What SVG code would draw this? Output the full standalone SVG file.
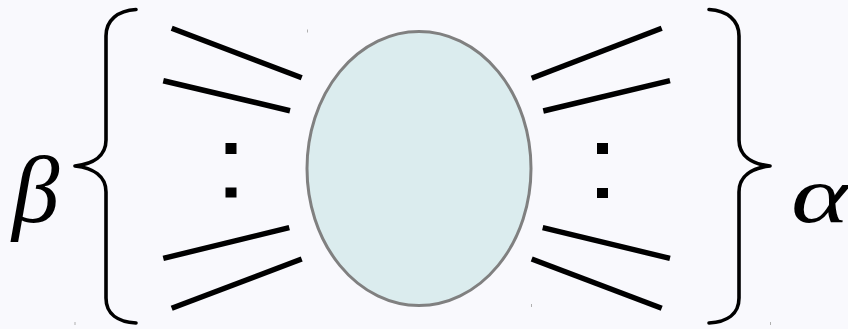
<svg xmlns="http://www.w3.org/2000/svg" width="848" height="329" viewBox="0 0 848 329">
<defs>
<style>
.leg{stroke:#000;stroke-width:5.5;stroke-linecap:butt;fill:none}
.dot{fill:#000}
.brace{stroke:#000;stroke-width:3.6;fill:none;stroke-linecap:round;stroke-linejoin:round}
.lbl{font-family:"Liberation Serif","DejaVu Serif",serif;font-style:italic;fill:#000}
.tick{fill:#b0b0b0}
</style>
</defs>
<rect x="0" y="0" width="848" height="329" fill="#f9f9fd"/>
<g id="connectors">
<line class="leg" x1="171.7" y1="28.3" x2="301.7" y2="77.7"/>
<line class="leg" x1="163.3" y1="80.7" x2="290" y2="110.7"/>
<line class="leg" x1="163.3" y1="258.3" x2="289.3" y2="227.7"/>
<line class="leg" x1="171.7" y1="308.3" x2="301.7" y2="259"/>
<line class="leg" x1="531.7" y1="78.3" x2="661.7" y2="28.3"/>
<line class="leg" x1="543.3" y1="111" x2="670" y2="80.7"/>
<line class="leg" x1="542.7" y1="227.7" x2="670" y2="258.3"/>
<line class="leg" x1="531.7" y1="259" x2="661.7" y2="308.3"/>
<rect class="dot" x="225.5" y="143" width="11" height="11"/>
<rect class="dot" x="225.5" y="187.5" width="11" height="10"/>
<rect class="dot" x="597" y="143" width="11" height="11"/>
<rect class="dot" x="597" y="188" width="11" height="10"/>
</g>
<g id="vertex">
<ellipse cx="419" cy="168.5" rx="112" ry="137" fill="#dbecee" stroke="#808080" stroke-width="3"/>
</g>
<g id="brace-left">
<path class="brace" d="M136,9.5 C118,10.5 106,20 106,36 L106,140 C106,156 93,164 75,166 C93,168 106,176 106,192 L106,298 C106,314 118,322 136,323"/>
<text class="lbl" x="12" y="222" font-size="95">β</text>
</g>
<g id="brace-right">
<path class="brace" transform="translate(845,0) scale(-1,1)" d="M136,9.5 C118,10.5 106,20 106,36 L106,140 C106,156 93,164 75,166 C93,168 106,176 106,192 L106,298 C106,314 118,322 136,323"/>
<text class="lbl" x="0" y="0" font-size="80" transform="translate(791,222) scale(1.38,1)">α</text>
</g>
<rect class="tick" x="307" y="29.5" width="1" height="3"/>
<rect class="tick" x="531" y="304" width="1" height="3"/>
<rect class="tick" x="74.5" y="322" width="1" height="3"/>
<rect class="tick" x="770" y="322" width="1" height="3"/>
</svg>
